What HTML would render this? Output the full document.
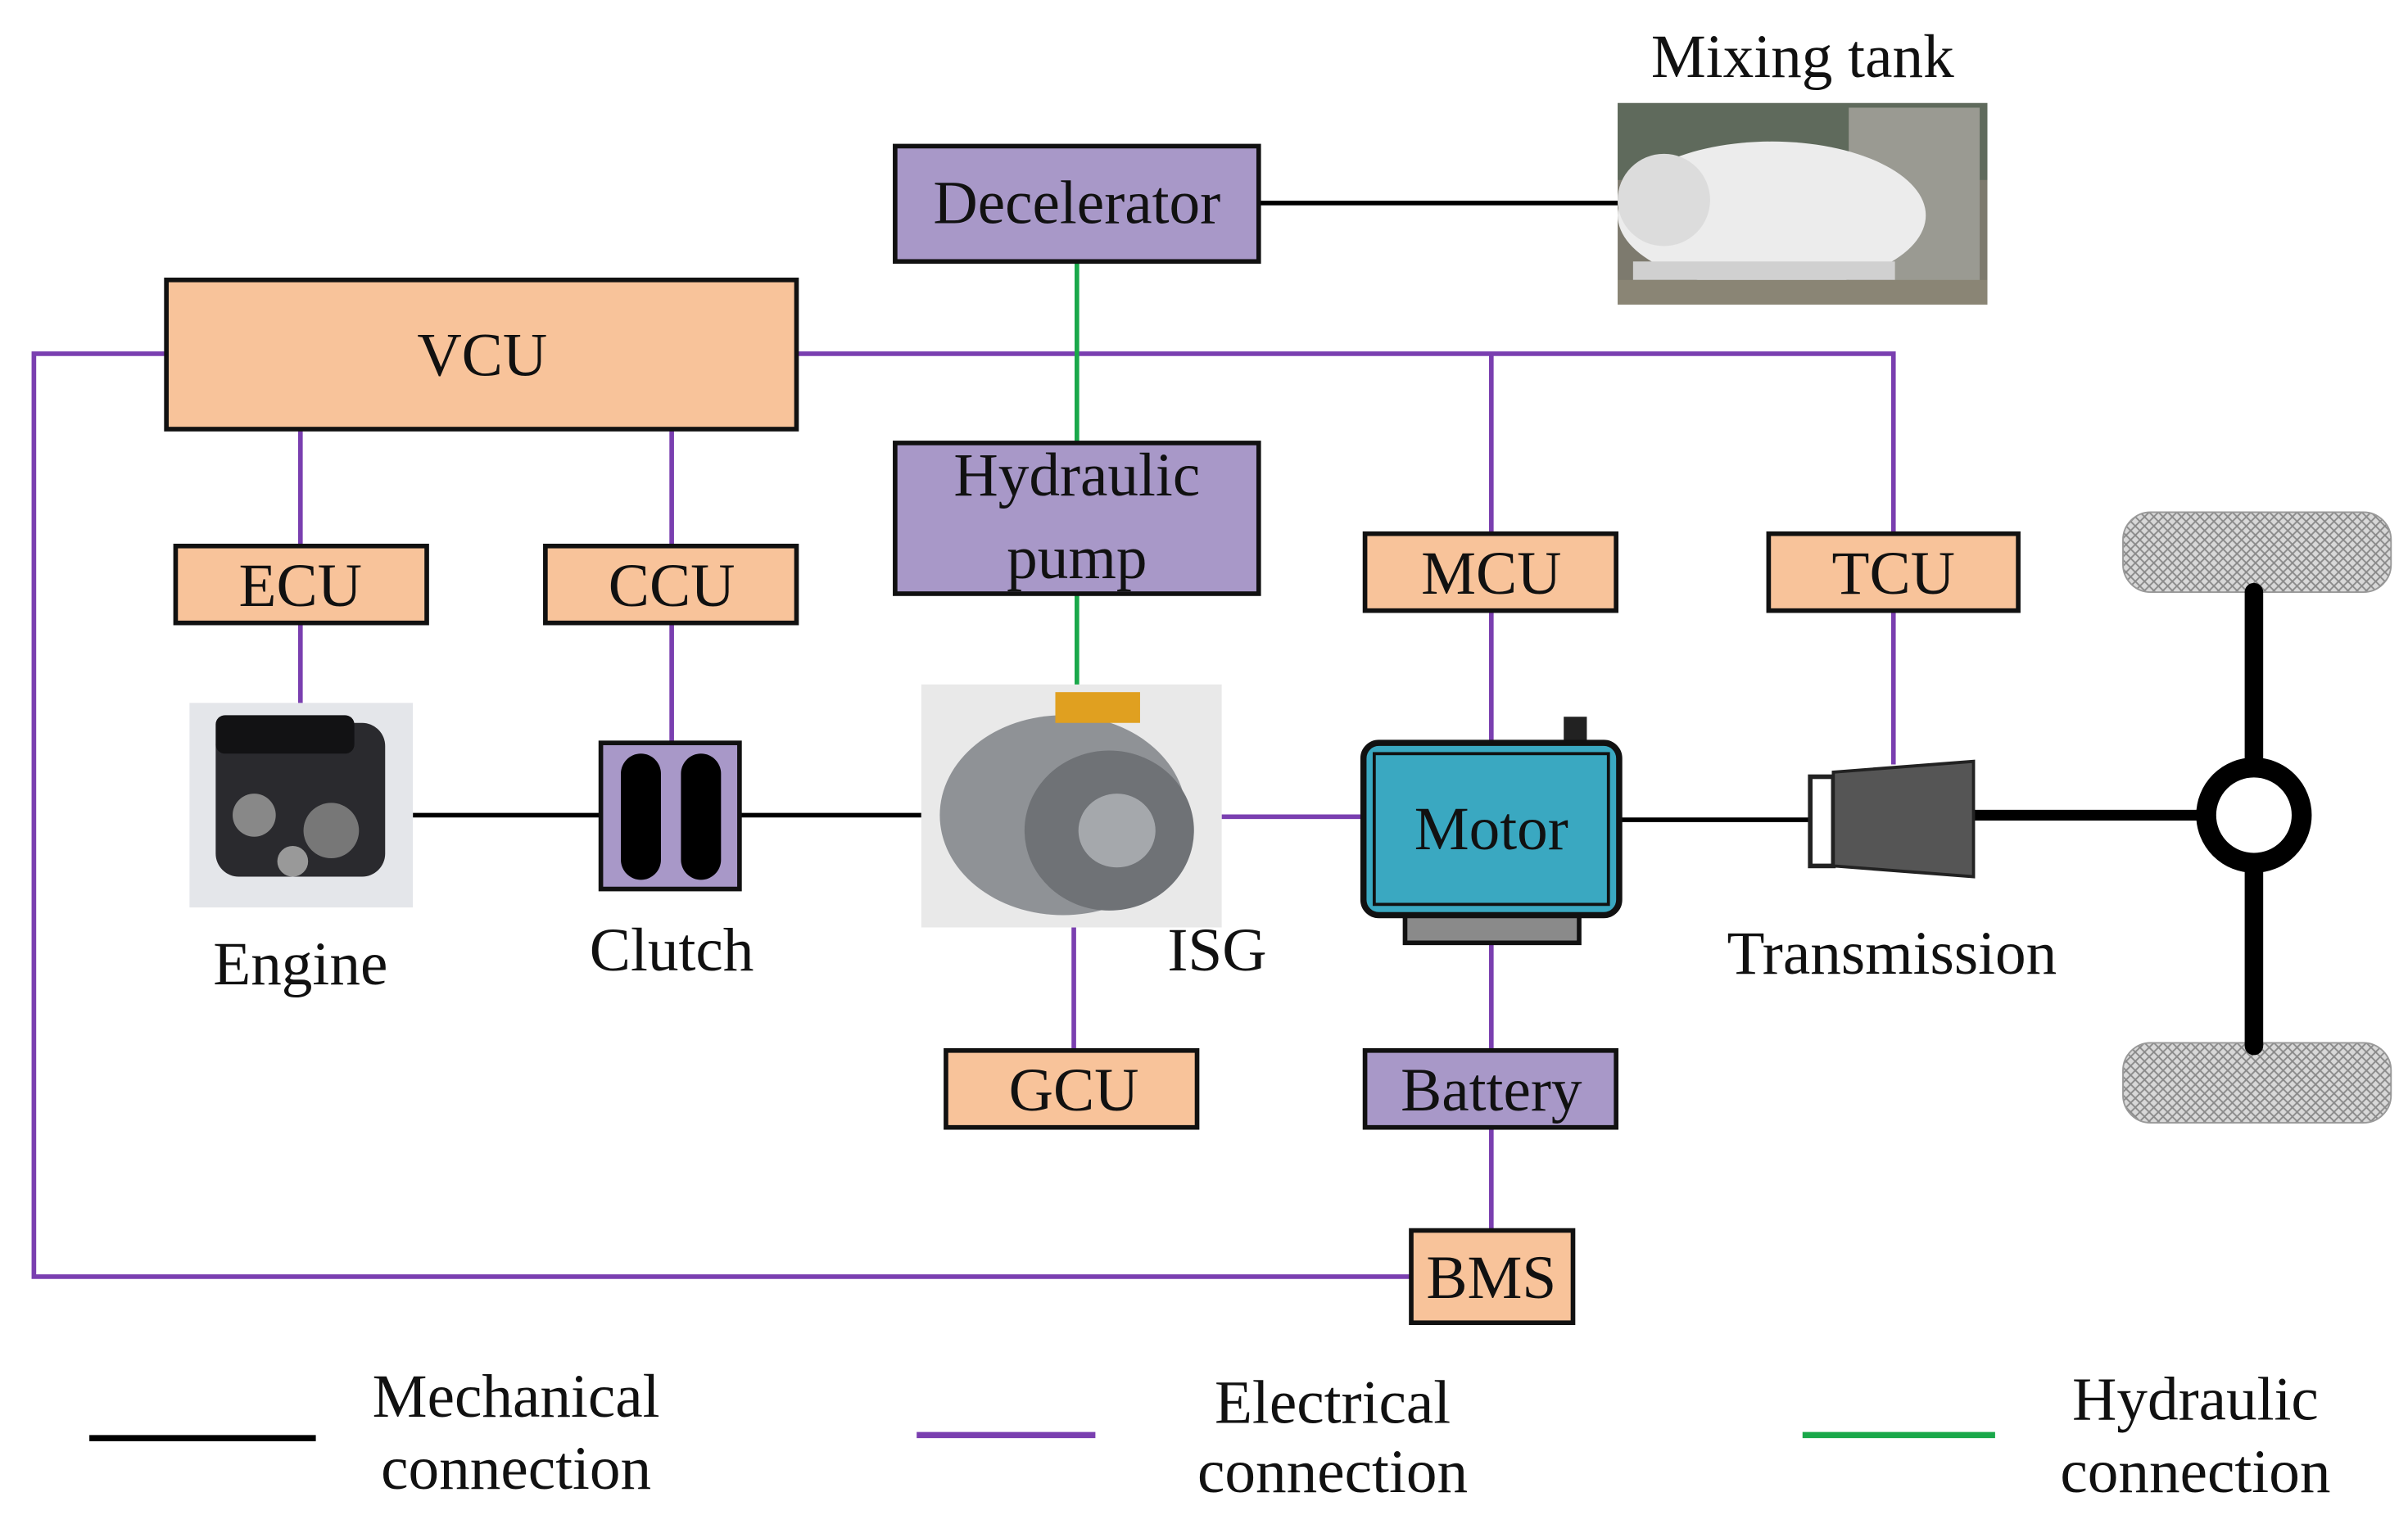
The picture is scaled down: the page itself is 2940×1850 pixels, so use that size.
<!DOCTYPE html>
<html><head><meta charset="utf-8">
<style>
html,body{margin:0;padding:0;background:#fff;}
svg{display:block;}
text{font-family:"Liberation Serif",serif;font-size:40px;fill:#111;text-anchor:middle;}
</style></head>
<body>
<svg width="2940" height="1850" viewBox="0 0 1563 985" preserveAspectRatio="none" xmlns="http://www.w3.org/2000/svg">
<defs>
<pattern id="tread" width="6" height="6" patternUnits="userSpaceOnUse">
<rect width="6" height="6" fill="#d8d8d8"/><path d="M0 0L6 6M6 0L0 6" stroke="#8a8a8a" stroke-width="1"/>
</pattern>
</defs>
<rect width="1563" height="985" fill="#fff"/>

<!-- electrical lines -->
<g stroke="#7a3fb0" stroke-width="3" fill="none">
<polyline points="108,230 22,230 22,830 916,830"/>
<polyline points="517,230 1229,230 1229,347"/>
<line x1="968" y1="230" x2="968" y2="347"/>
<line x1="195" y1="279" x2="195" y2="355"/>
<line x1="436" y1="279" x2="436" y2="355"/>
<line x1="195" y1="405" x2="195" y2="460"/>
<line x1="436" y1="405" x2="436" y2="483"/>
<line x1="968" y1="397" x2="968" y2="483"/>
<line x1="1229" y1="397" x2="1229" y2="497"/>
<line x1="697" y1="603" x2="697" y2="683"/>
<line x1="793" y1="531" x2="885" y2="531"/>
<line x1="968" y1="613" x2="968" y2="683"/>
<line x1="968" y1="733" x2="968" y2="800"/>
</g>
<!-- hydraulic -->
<g stroke="#1aa84a" stroke-width="3">
<line x1="699" y1="170" x2="699" y2="288"/>
<line x1="699" y1="386" x2="699" y2="450"/>
</g>
<!-- mechanical -->
<g stroke="#000" stroke-width="3">
<line x1="817" y1="132" x2="1050" y2="132"/>
<line x1="268" y1="530" x2="390" y2="530"/>
<line x1="480" y1="530" x2="598" y2="530"/>
<line x1="1051" y1="533" x2="1175" y2="533"/>
</g>
<line x1="1281" y1="530" x2="1432" y2="530" stroke="#000" stroke-width="7"/>

<!-- boxes -->
<g stroke="#111" stroke-width="3">
<rect x="581" y="95" width="236" height="75" fill="#a898c8"/>
<rect x="108" y="182" width="409" height="97" fill="#f8c39a"/>
<rect x="581" y="288" width="236" height="98" fill="#a898c8"/>
<rect x="114" y="355" width="163" height="50" fill="#f8c39a"/>
<rect x="354" y="355" width="163" height="50" fill="#f8c39a"/>
<rect x="886" y="347" width="163" height="50" fill="#f8c39a"/>
<rect x="1148" y="347" width="162" height="50" fill="#f8c39a"/>
<rect x="614" y="683" width="163" height="50" fill="#f8c39a"/>
<rect x="886" y="683" width="163" height="50" fill="#a898c8"/>
<rect x="916" y="800" width="105" height="60" fill="#f8c39a"/>
<rect x="390" y="483" width="90" height="95" fill="#a898c8"/>
</g>
<rect x="403" y="490" width="26" height="82" rx="13" fill="#000"/>
<rect x="442" y="490" width="26" height="82" rx="13" fill="#000"/>

<text x="699" y="145">Decelerator</text>
<text x="313" y="244">VCU</text>
<text x="699" y="322">Hydraulic</text>
<text x="699" y="376">pump</text>
<text x="195" y="394">ECU</text>
<text x="436" y="394">CCU</text>
<text x="968" y="386">MCU</text>
<text x="1229" y="386">TCU</text>
<text x="697" y="722">GCU</text>
<text x="968" y="722">Battery</text>
<text x="968" y="844">BMS</text>
<text x="1170" y="50">Mixing tank</text>
<text x="195" y="640">Engine</text>
<text x="436" y="631">Clutch</text>
<text x="790" y="631">ISG</text>
<text x="1228" y="633">Transmission</text>

<!-- mixing tank picture -->
<rect x="1050" y="67" width="240" height="131" fill="#7d7a6e"/>
<rect x="1050" y="67" width="240" height="50" fill="#5f6a5c"/>
<rect x="1200" y="70" width="85" height="125" fill="#9a9a92"/>
<ellipse cx="1150" cy="140" rx="100" ry="48" fill="#ececec"/>
<ellipse cx="1080" cy="130" rx="30" ry="30" fill="#dcdcdc"/>
<rect x="1060" y="170" width="170" height="12" fill="#d0d0d0"/>
<rect x="1050" y="182" width="240" height="16" fill="#8a8575"/>

<!-- engine picture -->
<rect x="123" y="457" width="145" height="133" fill="#e4e6ea"/>
<rect x="140" y="470" width="110" height="100" rx="15" fill="#2a2a2e"/>
<rect x="140" y="465" width="90" height="25" rx="6" fill="#121214"/>
<circle cx="165" cy="530" r="14" fill="#888"/><circle cx="215" cy="540" r="18" fill="#777"/>
<circle cx="190" cy="560" r="10" fill="#999"/>

<!-- ISG picture -->
<rect x="598" y="445" width="195" height="158" fill="#e9e9e9"/>
<ellipse cx="690" cy="530" rx="80" ry="65" fill="#8f9296"/>
<ellipse cx="720" cy="540" rx="55" ry="52" fill="#6f7276"/>
<ellipse cx="725" cy="540" rx="25" ry="24" fill="#a5a8ac"/>
<rect x="685" y="450" width="55" height="20" fill="#e0a020"/>

<!-- motor -->
<rect x="1015" y="466" width="15" height="18" fill="#222"/>
<polygon points="912,595 1025,595 1025,613 912,613" fill="#8a8a8a" stroke="#111" stroke-width="3"/>
<rect x="885" y="483" width="166" height="112" rx="10" fill="#3aa8c1" stroke="#111" stroke-width="4"/>
<rect x="892" y="490" width="152" height="98" fill="none" stroke="#111" stroke-width="2"/>
<text x="968" y="552">Motor</text>

<!-- transmission -->
<rect x="1175" y="505" width="15" height="58" fill="#fff" stroke="#222" stroke-width="3"/>
<polygon points="1190,502 1281,495 1281,570 1190,563" fill="#555" stroke="#222" stroke-width="2"/>

<!-- axle & wheels -->
<rect x="1378" y="333" width="174" height="52" rx="18" fill="url(#tread)" stroke="#999" stroke-width="1"/>
<rect x="1378" y="678" width="174" height="52" rx="18" fill="url(#tread)" stroke="#999" stroke-width="1"/>
<line x1="1463" y1="385" x2="1463" y2="680" stroke="#000" stroke-width="12" stroke-linecap="round"/>
<circle cx="1463" cy="530" r="31" fill="#fff" stroke="#000" stroke-width="13"/>

<!-- legend -->
<line x1="58" y1="935" x2="205" y2="935" stroke="#000" stroke-width="4"/>
<line x1="595" y1="933" x2="711" y2="933" stroke="#7a3fb0" stroke-width="4"/>
<line x1="1170" y1="933" x2="1295" y2="933" stroke="#1aa84a" stroke-width="4"/>
<text x="335" y="921">Mechanical</text>
<text x="335" y="968">connection</text>
<text x="865" y="925">Electrical</text>
<text x="865" y="970">connection</text>
<text x="1425" y="923">Hydraulic</text>
<text x="1425" y="970">connection</text>
</svg>
</body></html>
